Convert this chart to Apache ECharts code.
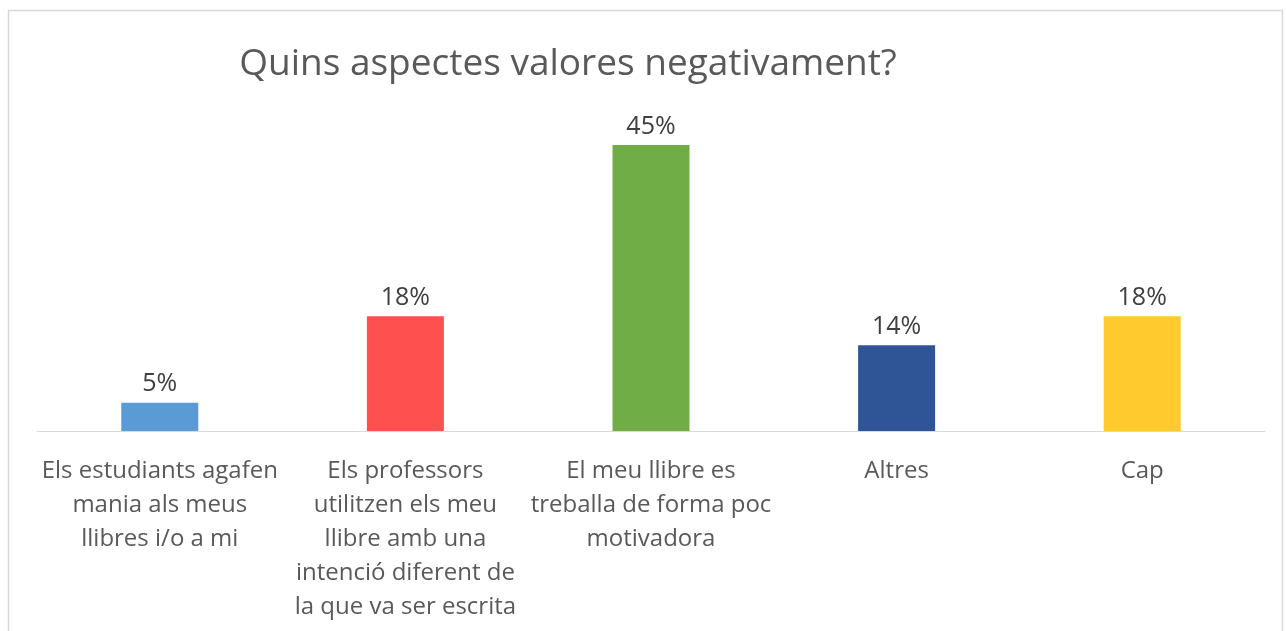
<!DOCTYPE html>
<html>
<head>
<meta charset="utf-8">
<script src="https://cdn.jsdelivr.net/npm/echarts@6/dist/echarts.min.js"></script>
<style>
	html,body{margin:0;padding:0;background:#fff;}
	#chart{width:1286px;height:631px;}
</style>
</head>
<body>
<div id="chart"></div>
<script>
	var categories = [
		'Els estudiants agafen\nmania als meus\nllibres i/o a mi',
		'Els professors\nutilitzen els meu\nllibre amb una\nintenció diferent de\nla que va ser escrita',
		'El meu llibre es\ntreballa de forma poc\nmotivadora',
		'Altres',
		'Cap'
	];
	var values = [4.5, 18.2, 45.4, 13.6, 18.2];
	var colors = ['#5b9bd5', '#ff5050', '#70ad47', '#2f5597', '#ffca2d'];

	var chart = echarts.init(document.getElementById('chart'));
	var fontFam = '"Open Sans", "Noto Sans", sans-serif';

	var option = {
		animation:false,
		graphic:[{
			type:'rect',
			shape:{x:8.5, y:10.5, width:1274, height:640},
			style:{fill:null, stroke:'#d9d9d9', lineWidth:1.5}
		}],
		title:{
			text:'Quins aspectes valores negativament?',
			left:563,
			top:41,
			textAlign:'center',
			textStyle:{
				color:'#595959',
				fontSize:37,
				fontWeight:'normal',
				fontFamily:fontFam
			}
		},
		grid:{left:37, right:21, top:116, bottom:200, containLabel:false},
		xAxis:{
			type:'category',
			data:categories,
			axisLine:{lineStyle:{color:'#d9d9d9', width:1}},
			axisTick:{show:false},
			axisLabel:{
				interval:0,
				margin:23,
				color:'#595959',
				fontSize:24,
				lineHeight:34,
				fontFamily:fontFam,
				align:'center'
			}
		},
		yAxis:{
			type:'value',
			min:0,
			max:50,
			show:false,
			splitLine:{show:false}
		},
		series:[{
			type:'bar',
			barWidth:77,
			data:values.map(function(v,i){
				return {value:v, itemStyle:{color:colors[i]}};
			}),
			label:{
				show:true,
				position:'top',
				distance:6,
				color:'#404040',
				fontSize:25,
				fontFamily:fontFam,
				formatter:function(p){ return Math.round(p.value) + '%'; }
			}
		}]
	};
	chart.setOption(option);
</script>
</body>
</html>
